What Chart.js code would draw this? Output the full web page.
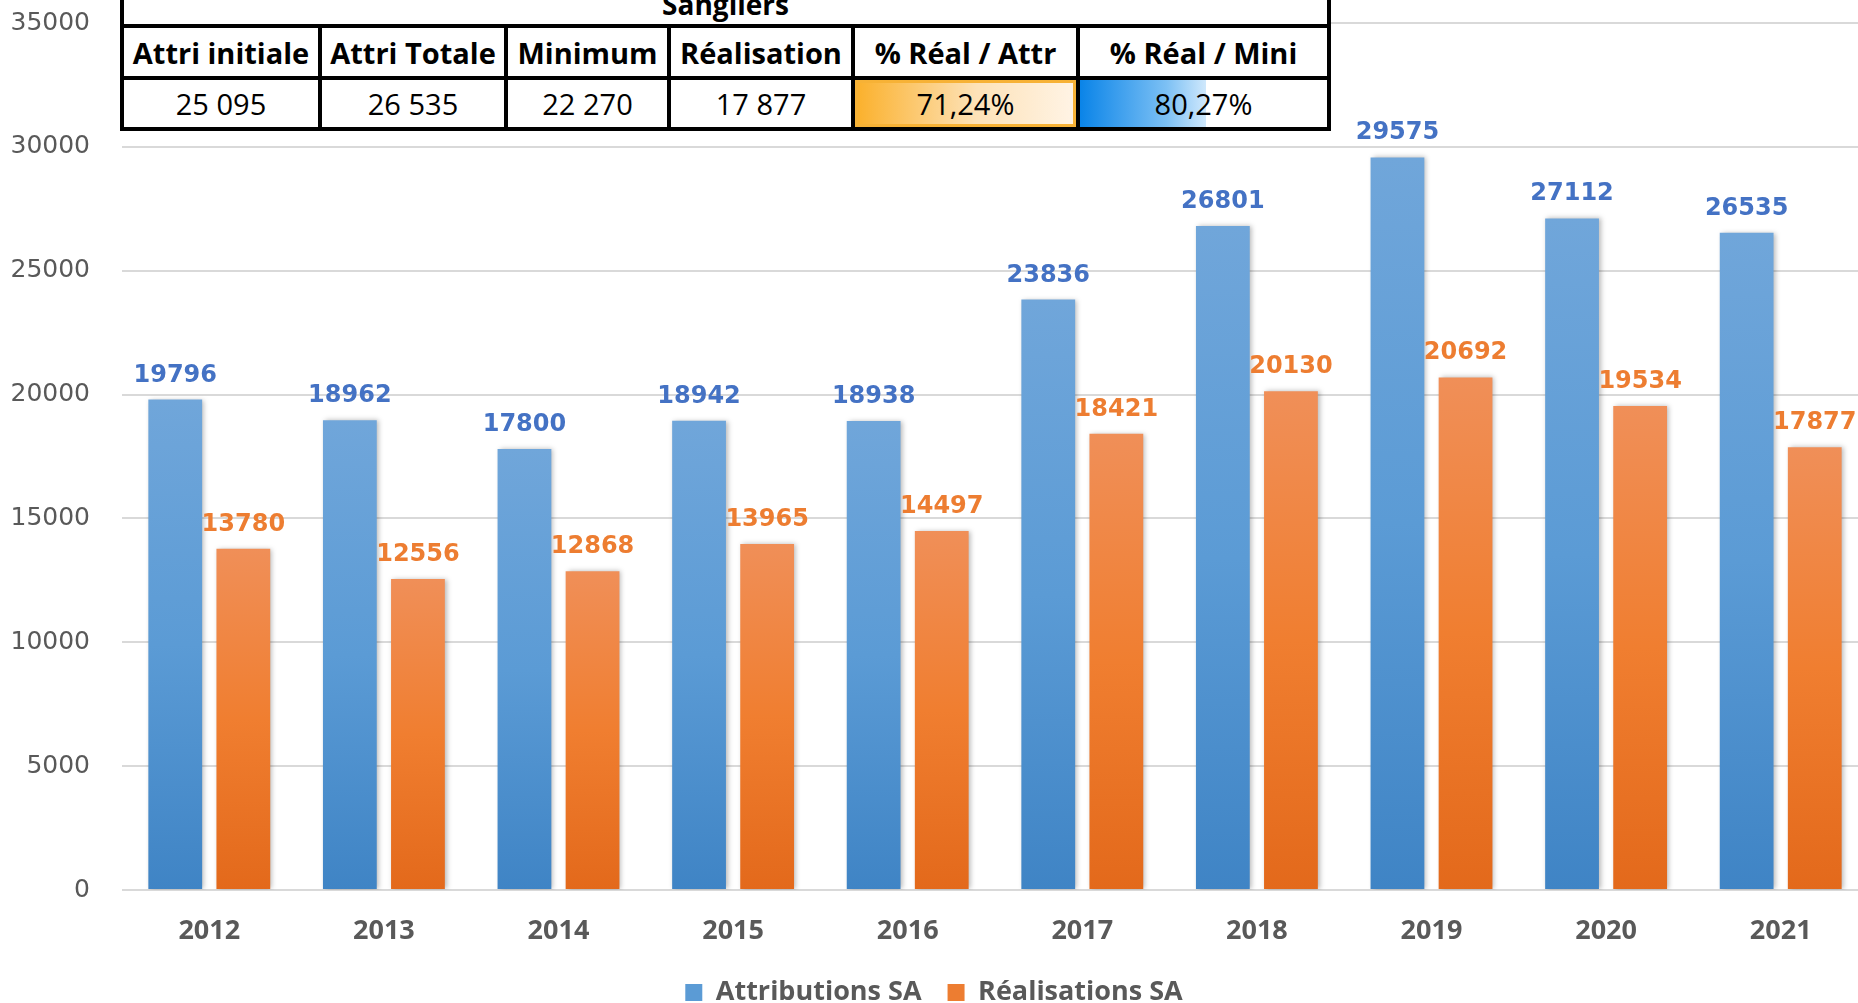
<!DOCTYPE html>
<html>
<head>
<meta charset="utf-8">
<script src="https://cdn.jsdelivr.net/npm/chart.js@4.4.1/dist/chart.umd.min.js"></script>
<style>
    html, body { margin: 0; padding: 0; background: #fff; overflow: hidden; }
    #wrap { position: relative; width: 1858px; height: 1003px; overflow: hidden; }
    #chart-box { position: absolute; left: 0; top: 0; width: 1880px; height: 1016px; }
    #recap {
        position: absolute; left: 120px; top: -22px; width: 1207px;
        border-collapse: collapse; background: #fff; table-layout: fixed;
        font-family: "Open Sans", sans-serif; color: #000;
    }
    #recap td, #recap th { border: 4px solid #000; text-align: center; padding: 0; }
    #recap th { font-weight: bold; font-size: 29px; height: 48px; }
    #recap td { font-size: 29px; height: 47px; }
    #recap .title th { height: 42px; font-size: 28px; vertical-align: bottom; line-height: 40px; }
    #recap td.bar-orange { background: linear-gradient(90deg, #fbb02a 0%, #fde2b8 55%, #fff4e6 100%); box-shadow: inset 0 0 0 3px #f7b236; }
    #recap td.bar-blue { background: linear-gradient(90deg, #0a84e8 0%, #7cc0f4 35%, #cfe8fc 51%, #fff 51.2%, #fff 100%); }
</style>
</head>
<body>
<div id="wrap">
    <div id="chart-box"><canvas id="sa-chart"></canvas></div>
    <table id="recap"></table>
</div>
<script>
// --- data ---
const years = ['2012', '2013', '2014', '2015', '2016', '2017', '2018', '2019', '2020', '2021'];
const attributions = [19796, 18962, 17800, 18942, 18938, 23836, 26801, 29575, 27112, 26535];
const realisations = [13780, 12556, 12868, 13965, 14497, 18421, 20130, 20692, 19534, 17877];
const yTicks = [0, 5000, 10000, 15000, 20000, 25000, 30000, 35000];

const tableTitle = 'Sangliers';
const tableHeaders = ['Attri initiale', 'Attri Totale', 'Minimum', 'Réalisation', '% Réal / Attr', '% Réal / Mini'];
const tableValues = ['25 095', '26 535', '22 270', '17 877', '71,24%', '80,27%'];
const colWidths = [198, 186, 163, 184, 225, 251];

// --- summary table (drawn over the top of the chart) ---
const recap = document.getElementById('recap');
let html = '<colgroup>' + colWidths.map(w => `<col style="width:${w}px">`).join('') + '</colgroup>';
html += `<tr class="title"><th colspan="${tableHeaders.length}">${tableTitle}</th></tr>`;
html += '<tr>' + tableHeaders.map(h => `<th>${h}</th>`).join('') + '</tr>';
html += '<tr>' + tableValues.map((v, i) => {
    const cls = i === 4 ? 'bar-orange' : (i === 5 ? 'bar-blue' : '');
    return `<td class="${cls}">${v}</td>`;
}).join('') + '</tr>';
recap.innerHTML = html;

// --- chart ---
const blueStops = ['#70a6da', '#5b9bd5', '#3f84c5'];
const orangeStops = ['#f08f58', '#f07e30', '#e3691b'];

function barFill(stops, solid) {
    return (c) => {
        const chart = c.chart;
        if (!chart.chartArea || c.type !== 'data') return solid;
        const y = chart.scales.y;
        const top = y.getPixelForValue(c.raw);
        const bottom = y.getPixelForValue(0);
        const g = chart.ctx.createLinearGradient(0, top, 0, bottom);
        g.addColorStop(0, stops[0]);
        g.addColorStop(0.5, stops[1]);
        g.addColorStop(1, stops[2]);
        return g;
    };
}

// bar shadow + value labels above each bar
const barExtras = {
    id: 'barExtras',
    beforeDatasetsDraw(chart) {
        const ctx = chart.ctx;
        ctx.save();
        ctx.shadowColor = 'rgba(0,0,0,0.28)';
        ctx.shadowBlur = 5;
        ctx.shadowOffsetX = 2;
        ctx.shadowOffsetY = 0;
    },
    afterDatasetsDraw(chart) {
        const ctx = chart.ctx;
        ctx.restore();
        ctx.save();
        ctx.font = 'bold 24px "DejaVu Sans"';
        ctx.textAlign = 'center';
        ctx.textBaseline = 'alphabetic';
        chart.data.datasets.forEach((ds, di) => {
            const meta = chart.getDatasetMeta(di);
            ctx.fillStyle = ds.labelColor;
            meta.data.forEach((bar, i) => {
                ctx.fillText(String(ds.data[i]), bar.x, bar.y - 18);
            });
        });
        ctx.restore();
    }
};

new Chart(document.getElementById('sa-chart'), {
    type: 'bar',
    data: {
        labels: years,
        datasets: [
            {
                label: 'Attributions SA',
                data: attributions,
                backgroundColor: barFill(blueStops, '#5b9bd5'),
                labelColor: '#4472c4',
                legendColor: '#5b9bd5',
                categoryPercentage: 0.78,
                barPercentage: 0.79
            },
            {
                label: 'Réalisations SA',
                data: realisations,
                backgroundColor: barFill(orangeStops, '#ed7d31'),
                labelColor: '#ed7d31',
                legendColor: '#ed7d31',
                categoryPercentage: 0.78,
                barPercentage: 0.79
            }
        ]
    },
    options: {
        responsive: true,
        maintainAspectRatio: false,
        animation: false,
        layout: { padding: { top: 23, right: 12, bottom: 0, left: 0 } },
        plugins: {
            tooltip: { enabled: false },
            legend: {
                position: 'bottom',
                labels: {
                    color: '#595959',
                    font: { family: 'Open Sans', size: 27, weight: 'bold' },
                    boxWidth: 17,
                    boxHeight: 17,
                    padding: 26,
                    generateLabels: chart => chart.data.datasets.map((ds, i) => ({
                        text: ds.label,
                        fillStyle: ds.legendColor,
                        strokeStyle: ds.legendColor,
                        lineWidth: 0,
                        hidden: false,
                        datasetIndex: i,
                        fontColor: '#595959'
                    }))
                }
            }
        },
        scales: {
            x: {
                grid: { display: false },
                border: { display: false },
                ticks: { color: '#595959', font: { family: 'Open Sans', size: 27, weight: 'bold' }, padding: 17 },
                afterFit: s => { s.height = 63; }
            },
            y: {
                min: 0,
                max: 35000,
                afterBuildTicks: s => { s.ticks = yTicks.map(v => ({ value: v })); },
                grid: { color: '#d9d9d9', lineWidth: 2, drawTicks: false },
                border: { display: false },
                ticks: {
                    color: '#595959',
                    font: { family: 'DejaVu Sans', size: 25 },
                    padding: 32,
                    callback: v => String(v)
                },
                afterFit: s => {
                    s.width = 122;
                    s.paddingTop = 0;
                    s.paddingBottom = 0;
                }
            }
        }
    },
    plugins: [barExtras]
});
</script>
</body>
</html>
